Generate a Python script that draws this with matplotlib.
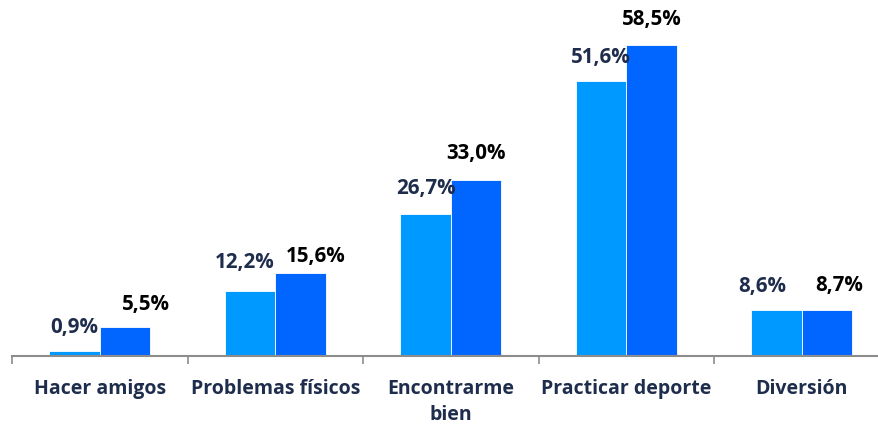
import numpy as np
import matplotlib.pyplot as plt

categorias = ["Hacer amigos", "Problemas físicos", "Encontrarme\nbien", "Practicar deporte", "Diversión"]
serie_a = [0.9, 12.2, 26.7, 51.6, 8.6]
serie_b = [5.5, 15.6, 33.0, 58.5, 8.7]

# desplazamiento de cada etiqueta (pixeles) respecto al centro de su barra
off_a = [(0, 24), (-5, 29), (0, 25), (0, 24), (-14, 24)]
off_b = [(21, 22), (15, 17), (0, 27), (0, 25), (12, 24)]

plt.rcParams['font.family'] = ['Open Sans', 'DejaVu Sans']

fig = plt.figure(figsize=(8.79, 4.26), dpi=100)
ax = fig.add_axes([12/879, 70/426, 877.5/879, 62*5.32/426])

x = np.arange(len(categorias))
w = 0.287
b1 = ax.bar(x - w/2, serie_a, w, color='#0099FF', edgecolor='white', linewidth=0.6)
b2 = ax.bar(x + w/2, serie_b, w, color='#0066FF', edgecolor='white', linewidth=0.6)

for xi, v, o in zip(x - w/2, serie_a, off_a):
    ax.annotate(f"{v:.1f}%".replace('.', ','), (xi, v), xytext=o, textcoords='offset pixels',
                ha='center', va='center', fontsize=14.8, fontweight='bold', color='#1F2D4D')
for xi, v, o in zip(x + w/2, serie_b, off_b):
    ax.annotate(f"{v:.1f}%".replace('.', ','), (xi, v), xytext=o, textcoords='offset pixels',
                ha='center', va='center', fontsize=14.8, fontweight='bold', color='black')

ax.set_xlim(-0.5, 4.5)
ax.set_ylim(0, 62)
for s in ['top', 'right', 'left']:
    ax.spines[s].set_visible(False)
ax.spines['bottom'].set_color('#8C8C8C')
ax.spines['bottom'].set_linewidth(1.5)
ax.set_yticks([])

ax.set_xticks(np.arange(-0.5, 5, 1), minor=False)
ax.set_xticklabels([])
ax.tick_params(axis='x', which='major', length=6, width=1.2, color='#8C8C8C', direction='out')
ax.set_xticks(x, minor=True)
ax.set_xticklabels(categorias, minor=True, fontsize=14, fontweight='bold', color='#1F2D4D',
                   va='top', linespacing=1.4)
ax.tick_params(axis='x', which='minor', length=0, pad=16.5)

fig.savefig('out.png', dpi=100)
